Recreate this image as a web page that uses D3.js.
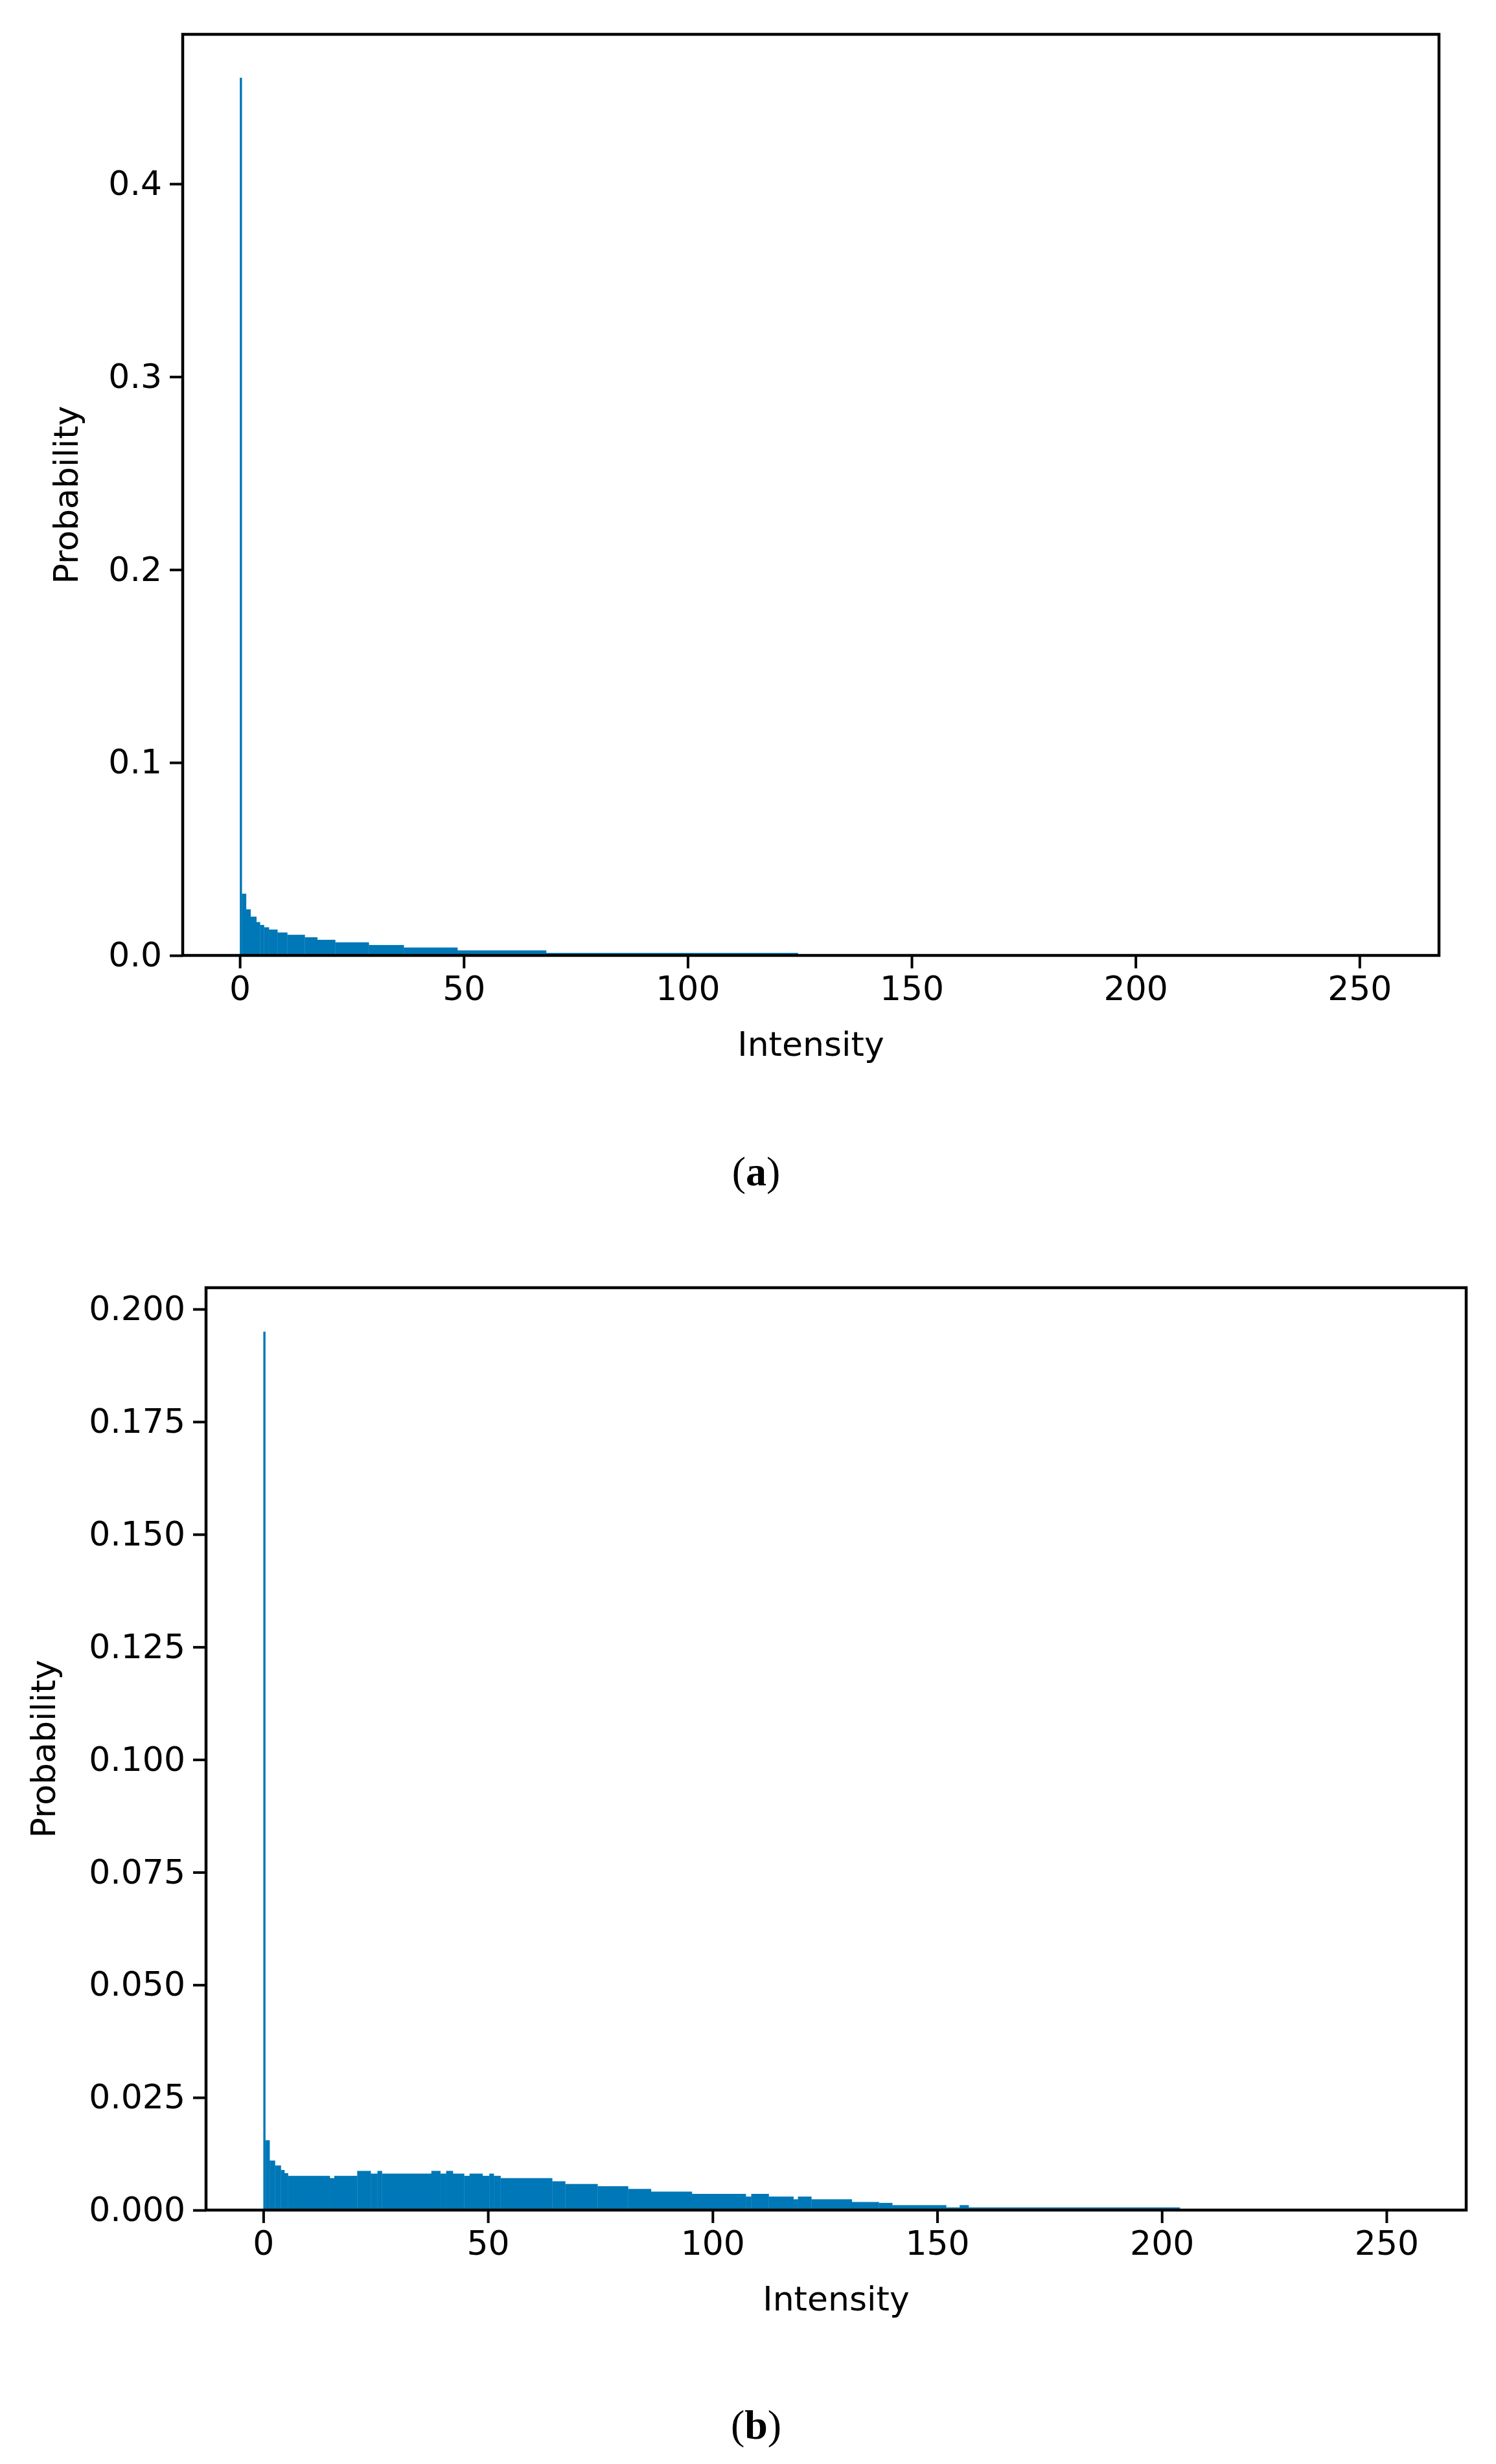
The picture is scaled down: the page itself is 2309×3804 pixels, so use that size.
<!DOCTYPE html>
<html><head><meta charset="utf-8">
<script src="https://cdn.jsdelivr.net/npm/d3@7"></script>
<style>body{margin:0;background:#fff}</style>
</head><body>
<svg id="c" width="2309" height="3804"></svg>
<script>
// Panel (a) histogram: bin edges and probabilities
const edgesA = [0,0.45,1.4,2.4,3.7,4.5,5.4,6.5,8.4,10.6,14.5,17.3,21.3,28.8,36.6,48.6,68.4,124.6];
const valuesA = [0.455,0.032,0.0239,0.0201,0.0173,0.0158,0.0146,0.0134,0.0119,0.0107,0.0094,0.0081,0.0068,0.0054,0.0041,0.0026,0.0013];
// Panel (b)
const edgesB = [0,0.45,1.4,2.6,3.9,4.7,5.5,14.8,15.8,20.9,23.9,25.4,26.4,37.4,39.4,40.7,42.2,44.7,45.9,48.8,50.3,51.3,52.8,64.3,67.2,74.4,81.2,86.3,95.4,107.4,108.6,112.5,118,119,122,131,137,140,152,155,157,204];
const valuesB = [0.195,0.0155,0.011,0.0099,0.0089,0.0082,0.0076,0.0071,0.0076,0.0087,0.0081,0.0087,0.0081,0.0087,0.0081,0.0087,0.0081,0.0076,0.0081,0.0076,0.0081,0.0076,0.0071,0.0064,0.0058,0.0053,0.0047,0.0041,0.0036,0.0030,0.0036,0.0030,0.0024,0.0030,0.0024,0.0018,0.0016,0.0011,0.0006,0.0011,0.0006];
const xTicks = [0,50,100,150,200,250];
const yTicksA = [0,0.1,0.2,0.3,0.4];
const yTicksB = [0,0.025,0.05,0.075,0.1,0.125,0.15,0.175,0.2];

const svg = d3.select('#c');
const col = '#0077b6';
function panel(o){
  const g = svg.append('g');
  const x = d3.scaleLinear().domain([-12.75,267.75]).range([o.l,o.r]);
  const y = d3.scaleLinear().domain([0,o.ymax]).range([o.b,o.t]);
  const bins = o.vals.map((v,i)=>({x0:o.edges[i],x1:o.edges[i+1],v}));
  g.selectAll('rect').data(bins).join('rect')
    .attr('x',d=>x(d.x0)).attr('width',d=>Math.max(1,x(d.x1)-x(d.x0)+0.3))
    .attr('y',d=>y(d.v)).attr('height',d=>o.b-y(d.v)).attr('fill',col);
  const xa = g.append('g').attr('transform',`translate(0,${o.b})`)
    .call(d3.axisBottom(x).tickValues(xTicks).tickSize(20).tickPadding(12).tickFormat(d3.format('d')));
  const ya = g.append('g').attr('transform',`translate(${o.l},0)`)
    .call(d3.axisLeft(y).tickValues(o.yt).tickSize(20).tickPadding(12).tickFormat(d3.format(o.fmt)));
  [xa,ya].forEach(a=>{
    a.select('.domain').remove();
    a.selectAll('line').attr('stroke','#000').attr('stroke-width',4);
    a.selectAll('text').attr('font-family','DejaVu Sans').attr('font-size',52).attr('fill','#000');
  });
  g.append('rect').attr('x',o.l).attr('y',o.t).attr('width',o.r-o.l).attr('height',o.b-o.t)
    .attr('fill','none').attr('stroke','#000').attr('stroke-width',4.5);
  g.append('text').attr('x',(o.l+o.r)/2).attr('y',o.b+155).attr('text-anchor','middle')
    .attr('font-family','DejaVu Sans').attr('font-size',52).text('Intensity');
  g.append('text').attr('transform',`translate(${o.yl},${(o.t+o.b)/2}) rotate(-90)`)
    .attr('text-anchor','middle').attr('font-family','DejaVu Sans').attr('font-size',52).text('Probability');
  const cap = g.append('text').attr('x',o.capx).attr('y',o.capy).attr('text-anchor','middle')
    .attr('font-family','Liberation Serif').attr('font-size',64);
  cap.append('tspan').text('(');
  cap.append('tspan').attr('font-weight','bold').text(o.cap);
  cap.append('tspan').text(')');
}
panel({l:282,r:2221,t:53,b:1475,ymax:0.4775,edges:edgesA,vals:valuesA,yt:yTicksA,fmt:'.1f',yl:120,cap:'a',capx:1167,capy:1830});
panel({l:318,r:2263,t:1988,b:3412,ymax:0.20475,edges:edgesB,vals:valuesB,yt:yTicksB,fmt:'.3f',yl:85,cap:'b',capx:1167,capy:3765});
</script>
</body></html>
